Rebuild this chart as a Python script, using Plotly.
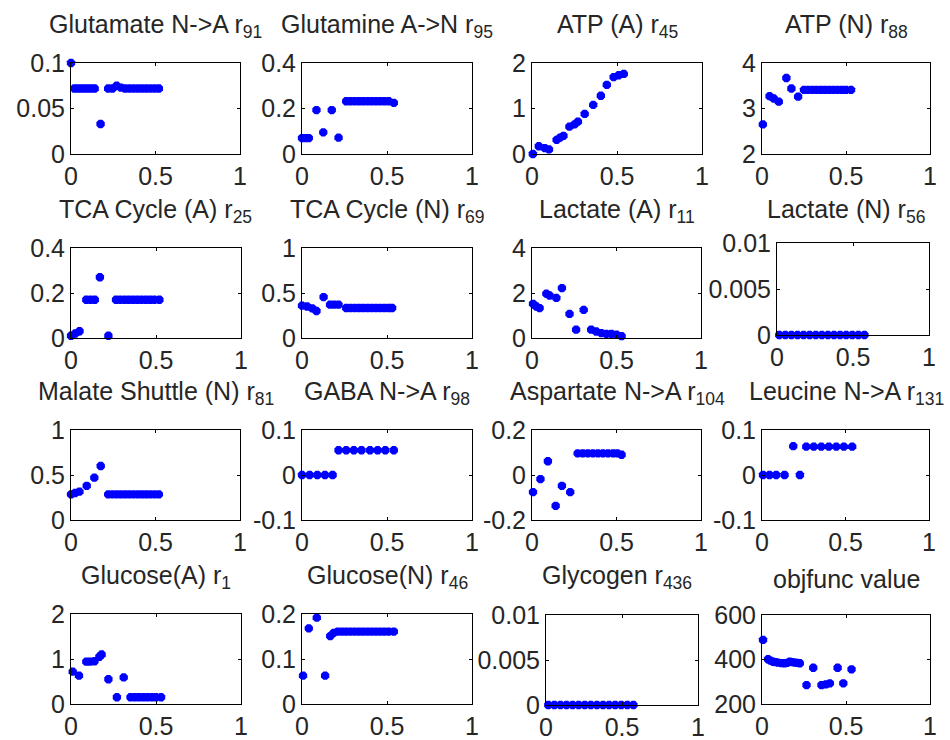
import plotly.graph_objects as go

# ---------------- data ----------------
x_ticks = [0, 0.5, 1]
x_ticktext = ["0", "0.5", "1"]

glu_na_x = [0.0, 0.02, 0.04, 0.06, 0.08, 0.10, 0.12, 0.14, 0.175, 0.22, 0.245, 0.27, 0.295,
            0.32, 0.345, 0.37, 0.395, 0.42, 0.445, 0.47, 0.495, 0.52]
glu_na_y = [0.1, 0.072, 0.072, 0.072, 0.072, 0.072, 0.072, 0.072, 0.033, 0.072, 0.072, 0.075,
            0.073, 0.072, 0.072, 0.072, 0.072, 0.072, 0.072, 0.072, 0.072, 0.072]

gln_an_x = [0.0, 0.02, 0.04, 0.085, 0.125, 0.175, 0.215, 0.26, 0.285, 0.31, 0.335, 0.36,
            0.385, 0.41, 0.435, 0.46, 0.485, 0.51, 0.54]
gln_an_y = [0.07, 0.07, 0.07, 0.193, 0.095, 0.193, 0.072, 0.232, 0.232, 0.232, 0.232, 0.232,
            0.232, 0.232, 0.232, 0.232, 0.232, 0.232, 0.225]

atp_a_x = [0.005, 0.04, 0.075, 0.10, 0.145, 0.165, 0.185, 0.22, 0.25, 0.27, 0.31, 0.36,
           0.405, 0.44, 0.48, 0.51, 0.54]
atp_a_y = [0.0, 0.17, 0.13, 0.10, 0.31, 0.36, 0.40, 0.60, 0.65, 0.71, 0.88, 1.08,
           1.28, 1.52, 1.69, 1.73, 1.76]

atp_n_x = [0.005, 0.045, 0.07, 0.10, 0.145, 0.175, 0.215, 0.25, 0.275, 0.30, 0.325, 0.35,
           0.375, 0.40, 0.425, 0.45, 0.475, 0.50, 0.53]
atp_n_y = [2.65, 3.27, 3.22, 3.15, 3.67, 3.44, 3.26, 3.41, 3.41, 3.41, 3.41, 3.41,
           3.41, 3.41, 3.41, 3.41, 3.41, 3.41, 3.41]

tca_a_x = [0.0, 0.025, 0.05, 0.09, 0.115, 0.14, 0.17, 0.22, 0.265, 0.29, 0.315, 0.34,
           0.365, 0.39, 0.415, 0.44, 0.465, 0.49, 0.52]
tca_a_y = [0.01, 0.02, 0.03, 0.17, 0.17, 0.17, 0.27, 0.01, 0.17, 0.17, 0.17, 0.17,
           0.17, 0.17, 0.17, 0.17, 0.17, 0.17, 0.17]

tca_n_x = [0.0, 0.03, 0.06, 0.085, 0.127, 0.165, 0.19, 0.215, 0.26, 0.285, 0.31, 0.335,
           0.36, 0.385, 0.41, 0.435, 0.46, 0.485, 0.51, 0.53]
tca_n_y = [0.36, 0.35, 0.33, 0.30, 0.455, 0.37, 0.37, 0.37, 0.333, 0.333, 0.333, 0.333,
           0.333, 0.333, 0.333, 0.333, 0.333, 0.333, 0.333, 0.333]

lac_a_x = [0.006, 0.026, 0.045, 0.085, 0.104, 0.144, 0.177, 0.222, 0.261, 0.306, 0.35,
           0.38, 0.41, 0.44, 0.47, 0.50, 0.53]
lac_a_y = [1.52, 1.40, 1.33, 1.97, 1.89, 1.78, 2.22, 1.07, 0.37, 1.25, 0.37,
           0.29, 0.22, 0.18, 0.18, 0.15, 0.08]

lac_n_x = [0.015, 0.055, 0.095, 0.135, 0.175, 0.215, 0.255, 0.295, 0.335, 0.375, 0.415,
           0.455, 0.495, 0.535, 0.575]
lac_n_y = [0, 0, 0, 0, 0, 0, 0, 0, 0, 0, 0, 0, 0, 0, 0]

mal_n_x = [0.0, 0.024, 0.05, 0.093, 0.138, 0.176, 0.22, 0.245, 0.27, 0.295, 0.32, 0.345,
           0.37, 0.395, 0.42, 0.445, 0.47, 0.495, 0.52]
mal_n_y = [0.285, 0.30, 0.315, 0.38, 0.47, 0.60, 0.285, 0.285, 0.285, 0.285, 0.285, 0.285,
           0.285, 0.285, 0.285, 0.285, 0.285, 0.285, 0.285]

gaba_x = [0.0, 0.045, 0.09, 0.135, 0.18, 0.215, 0.26, 0.305, 0.35, 0.40, 0.445, 0.49, 0.54]
gaba_y = [0, 0, 0, 0, 0, 0.055, 0.055, 0.055, 0.055, 0.055, 0.055, 0.055, 0.055]

asp_x = [0.006, 0.05, 0.094, 0.14, 0.177, 0.226, 0.27, 0.30, 0.33, 0.36, 0.39, 0.42,
         0.45, 0.48, 0.505, 0.53]
asp_y = [-0.076, -0.018, 0.061, -0.137, -0.048, -0.076, 0.096, 0.096, 0.096, 0.096, 0.096,
         0.096, 0.096, 0.096, 0.096, 0.09]

leu_x = [0.006, 0.045, 0.085, 0.135, 0.187, 0.227, 0.265, 0.31, 0.355, 0.40, 0.445, 0.49, 0.54]
leu_y = [0, 0, 0, 0, 0.064, 0, 0.063, 0.063, 0.063, 0.063, 0.063, 0.063, 0.063]

glc_a_x = [0.01, 0.047, 0.09, 0.112, 0.138, 0.167, 0.18, 0.22, 0.27, 0.31, 0.35, 0.375,
           0.40, 0.425, 0.45, 0.475, 0.50, 0.53]
glc_a_y = [0.72, 0.63, 0.94, 0.94, 0.95, 1.05, 1.10, 0.55, 0.15, 0.59, 0.15, 0.15,
           0.15, 0.15, 0.15, 0.15, 0.15, 0.15]

glc_n_x = [0.006, 0.04, 0.087, 0.136, 0.166, 0.186, 0.21, 0.235, 0.26, 0.285, 0.31, 0.335,
           0.36, 0.385, 0.41, 0.435, 0.46, 0.485, 0.51, 0.54]
glc_n_y = [0.063, 0.168, 0.192, 0.063, 0.151, 0.158, 0.161, 0.161, 0.161, 0.161, 0.161, 0.161,
           0.161, 0.161, 0.161, 0.161, 0.161, 0.161, 0.161, 0.161]

glycogen_x = [0.015, 0.055, 0.095, 0.135, 0.175, 0.215, 0.255, 0.295, 0.335, 0.375, 0.415,
              0.455, 0.495, 0.535, 0.575]
glycogen_y = [0, 0, 0, 0, 0, 0, 0, 0, 0, 0, 0, 0, 0, 0, 0]

obj_x = [0.006, 0.036, 0.05, 0.066, 0.08, 0.095, 0.115, 0.135, 0.15, 0.165, 0.18, 0.195,
         0.21, 0.225, 0.265, 0.305, 0.354, 0.38, 0.404, 0.45, 0.484, 0.533]
obj_y = [488, 401, 395, 390, 388, 386, 384, 383, 385, 390, 388, 386,
         385, 383, 285, 363, 285, 288, 293, 363, 293, 356]

titles = ["Glutamate N->A r<sub>91</sub>", "Glutamine A->N r<sub>95</sub>",
          "ATP (A) r<sub>45</sub>", "ATP (N) r<sub>88</sub>",
          "TCA Cycle (A) r<sub>25</sub>", "TCA Cycle (N) r<sub>69</sub>",
          "Lactate (A) r<sub>11</sub>", "Lactate (N) r<sub>56</sub>",
          "Malate Shuttle (N) r<sub>81</sub>", "GABA N->A r<sub>98</sub>",
          "Aspartate N->A r<sub>104</sub>", "Leucine N->A r<sub>131</sub>",
          "Glucose(A) r<sub>1</sub>", "Glucose(N) r<sub>46</sub>",
          "Glycogen r<sub>436</sub>", "objfunc value"]

y_tickvals = [[0, 0.05, 0.1], [0, 0.2, 0.4], [0, 1, 2], [2, 3, 4],
              [0, 0.2, 0.4], [0, 0.5, 1], [0, 2, 4], [0, 0.005, 0.01],
              [0, 0.5, 1], [-0.1, 0, 0.1], [-0.2, 0, 0.2], [-0.1, 0, 0.1],
              [0, 1, 2], [0, 0.1, 0.2], [0, 0.005, 0.01], [200, 400, 600]]
y_ticktext = [["0", "0.05", "0.1"], ["0", "0.2", "0.4"], ["0", "1", "2"], ["2", "3", "4"],
              ["0", "0.2", "0.4"], ["0", "0.5", "1"], ["0", "2", "4"], ["0", "0.005", "0.01"],
              ["0", "0.5", "1"], ["-0.1", "0", "0.1"], ["-0.2", "0", "0.2"], ["-0.1", "0", "0.1"],
              ["0", "1", "2"], ["0", "0.1", "0.2"], ["0", "0.005", "0.01"], ["200", "400", "600"]]

series = [(glu_na_x, glu_na_y), (gln_an_x, gln_an_y), (atp_a_x, atp_a_y), (atp_n_x, atp_n_y),
          (tca_a_x, tca_a_y), (tca_n_x, tca_n_y), (lac_a_x, lac_a_y), (lac_n_x, lac_n_y),
          (mal_n_x, mal_n_y), (gaba_x, gaba_y), (asp_x, asp_y), (leu_x, leu_y),
          (glc_a_x, glc_a_y), (glc_n_x, glc_n_y), (glycogen_x, glycogen_y), (obj_x, obj_y)]

# ---------------- layout (pixel boxes of each axes) ----------------
W, H = 950, 740
boxes = [(71, 240, 63, 154), (302, 472, 63, 154), (532, 702, 63, 154), (762, 930, 63, 154),
         (71, 241, 248, 338), (302, 472, 248, 338), (532, 701, 248, 338), (777, 929, 243, 335),
         (71, 240, 430, 520), (302, 472, 430, 520), (532, 701, 430, 520), (762, 929, 430, 520),
         (71, 241, 614, 704), (302, 472, 614, 704), (546, 698, 615, 705), (762, 930, 615, 704)]
col_centers = [155.5, 387, 617, 846]
row_tops = [63, 248, 430, 614]

FONT = "Liberation Sans, Arial, Helvetica, sans-serif"
TXT = "#262626"

fig = go.Figure()
annotations = []
for i, ((xs, ys), (l, r, t, b)) in enumerate(zip(series, boxes)):
    k = i + 1
    xa = "x" if k == 1 else f"x{k}"
    ya = "y" if k == 1 else f"y{k}"
    fig.add_trace(go.Scatter(x=xs, y=ys, mode="markers", xaxis=xa, yaxis=ya,
                             cliponaxis=False, showlegend=False, hoverinfo="skip",
                             marker=dict(symbol="octagon", size=9, color="rgb(0,0,255)",
                                         line=dict(width=0))))
    yt = y_tickvals[i]
    common = dict(showline=True, linecolor="black", linewidth=1, mirror="allticks",
                  ticks="inside", ticklen=3, tickcolor="black", showgrid=False,
                  zeroline=False, automargin=False,
                  tickfont=dict(family=FONT, size=25, color=TXT))
    fig.layout[("xaxis" if k == 1 else f"xaxis{k}")] = dict(
        domain=[l / W, r / W], range=[0, 1], tickvals=x_ticks, ticktext=x_ticktext,
        anchor=ya, **common)
    fig.layout[("yaxis" if k == 1 else f"yaxis{k}")] = dict(
        domain=[1 - b / H, 1 - t / H], range=[yt[0], yt[-1]], tickvals=yt,
        ticktext=y_ticktext[i], anchor=xa, **common)
    annotations.append(dict(text=titles[i], xref="paper", yref="paper",
                            x=col_centers[i % 4] / W, y=1 - row_tops[i // 4] / H,
                            xanchor="center", yanchor="bottom", yshift=19, showarrow=False,
                            font=dict(family=FONT, size=25, color=TXT)))

fig.update_layout(template="none", width=W, height=H,
                  margin=dict(l=0, r=0, t=0, b=0, pad=0), autosize=False,
                  paper_bgcolor="white", plot_bgcolor="white", annotations=annotations)

fig.write_html("out.html", config={"displayModeBar": False},
               post_script="document.body.style.margin='0';document.body.style.overflow='hidden';")
